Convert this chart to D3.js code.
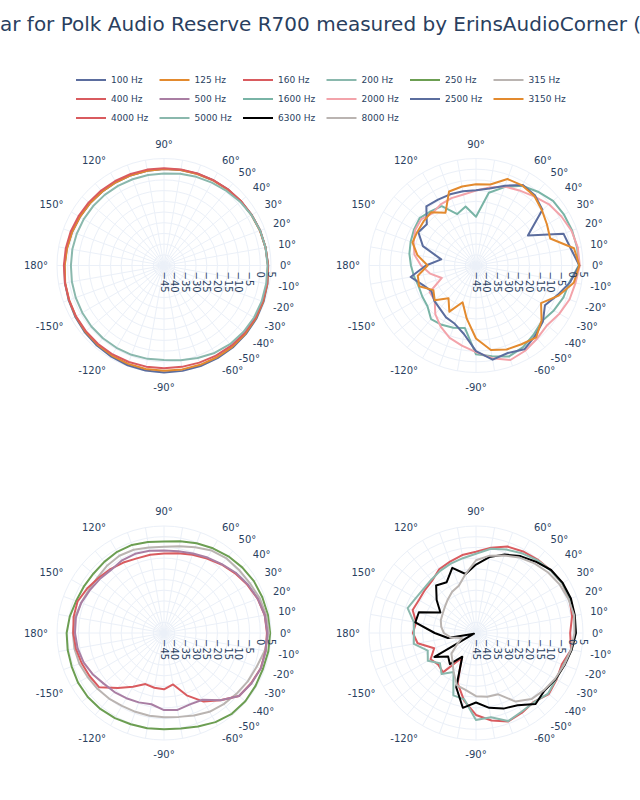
<!DOCTYPE html>
<html>
<head>
<meta charset="utf-8">
<script src="https://cdn.jsdelivr.net/npm/d3@7"></script>
<style>
  body { margin: 0; background: #fff; }
  text { font-family: "DejaVu Sans", Verdana, sans-serif; fill: #2a3f5f; }
</style>
</head>
<body>
<div id="chart"></div>
<script>
// angles in degrees, -170 .. 180 every 10
const angles = d3.range(-170, 181, 10);

// SPL (dB) per angle, top-left
const hz100 = [2.0, 2.4, 2.9, 3.4, 3.8, 4.2, 4.6, 4.8, 5.0, 5.0, 5.0, 5.0, 5.0, 4.9, 4.8, 4.5, 4.1, 3.7, 3.2, 2.8, 2.3, 1.8, 1.4, 1.0, 0.6, 0.3, 0.1, 0.0, -0.1, -0.1, 0.0, 0.2, 0.4, 0.7, 1.1, 1.5];
const hz125 = [1.9, 2.2, 2.6, 3.0, 3.3, 3.6, 3.9, 4.1, 4.2, 4.3, 4.4, 4.5, 4.6, 4.6, 4.5, 4.3, 4.0, 3.6, 3.2, 2.7, 2.2, 1.8, 1.3, 0.9, 0.5, 0.3, 0.1, 0.0, -0.1, -0.1, 0.0, 0.2, 0.4, 0.7, 1.0, 1.4];
const hz160 = [2.0, 2.2, 2.5, 2.7, 2.9, 3.0, 3.0, 3.0, 3.0, 3.1, 3.3, 3.6, 3.9, 4.1, 4.2, 4.1, 3.9, 3.6, 3.2, 2.8, 2.3, 1.9, 1.5, 1.1, 0.8, 0.6, 0.5, 0.5, 0.5, 0.6, 0.7, 0.9, 1.1, 1.4, 1.6, 1.8];
const hz200 = [-1.3, -1.1, -0.9, -0.7, -0.6, -0.6, -0.6, -0.7, -0.8, 0.0, 1.0, 2.2, 3.0, 3.4, 3.6, 3.6, 3.5, 3.4, 3.2, 2.8, 2.2, 1.4, 0.5, -0.3, -0.9, -1.5, -2.0, -2.1, -2.1, -2.0, -1.9, -1.8, -1.7, -1.6, -1.5, -1.5];
// bottom-left
const hz250 = [0.7, 0.9, 1.4, 1.5, 1.3, 0.9, 0.4, 0.2, 0.0, 0.3, 1.5, 3.1, 4.3, 4.6, 4.4, 4.2, 4.5, 4.6, 4.3, 3.9, 3.5, 2.7, 1.8, 0.7, -0.4, -1.5, -2.3, -1.8, -1.2, -1.2, -1.6, -1.9, -1.7, -1.3, -0.3, 0.5];
const hz315 = [-2.5, -2.9, -3.8, -4.4, -5.0, -5.7, -5.8, -5.7, -5.6, -5.2, -4.0, -2.5, -1.6, -0.8, 0.2, 1.1, 2.8, 4.0, 3.5, 2.6, 1.4, 0.8, 0.5, -0.5, -2.4, -3.8, -4.7, -4.4, -3.6, -3.3, -3.8, -4.5, -4.5, -3.8, -2.8, -2.4];
const hz400 = [-3.2, -4.0, -4.8, -5.5, -11.5, -16.0, -19.6, -19.0, -18.7, -20.6, -14.0, -8.0, -4.0, 0.8, 2.0, 3.1, 3.2, 3.1, 2.8, 1.6, 0.0, -1.6, -3.2, -4.8, -6.1, -7.2, -7.8, -7.9, -7.9, -7.0, -6.0, -5.0, -3.5, -2.0, -2.1, -2.6];
const hz500 = [-4.0, -5.0, -6.5, -8.2, -9.0, -9.8, -10.5, -11.2, -9.0, -8.5, -9.5, -9.0, -4.0, 0.8, 2.2, 3.2, 3.3, 3.3, 2.8, 1.7, 0.3, -1.2, -3.0, -4.3, -5.5, -6.2, -6.5, -6.0, -5.6, -5.8, -6.5, -5.8, -5.0, -3.8, -3.2, -3.4];
// top-right
const hz1600 = [-15.6, -16.5, -16.0, -15.4, -12.3, -13.0, -14.0, -15.3, -3.5, -1.9, 0.2, -1.0, -3.0, -4.7, -3.0, -1.5, -0.6, 3.0, 3.0, 2.8, 2.5, 2.0, 0.0, -2.0, -6.0, -10.5, -22.2, -17.0, -19.4, -13.0, -12.0, -10.6, -11.5, -12.5, -13.4, -14.6];
const hz2000 = [-23.2, -28.0, -20.0, -19.8, -15.4, -12.0, -9.0, -7.0, -4.5, -1.0, 2.0, 1.0, -0.5, -1.6, 0.0, 1.5, 2.2, 3.5, 3.3, 2.5, 1.0, -0.5, -2.8, -4.5, -5.7, -8.0, -10.0, -11.3, -11.5, -12.0, -13.2, -11.5, -12.1, -14.0, -15.8, -19.3];
const hz2500 = [-14.0, -18.5, -21.0, -19.5, -18.7, -17.0, -16.0, -12.5, -5.0, -0.3, -1.5, 0.2, -2.0, -4.2, -7.8, -4.5, -0.3, 3.3, 0.0, -1.5, -17.0, -4.5, -2.2, -1.5, -5.3, -8.5, -9.8, -9.8, -9.6, -9.5, -8.9, -15.0, -13.9, -18.6, -28.5, -21.6];
const hz3150 = [-17.4, -16.7, -22.0, -19.8, -25.0, -20.1, -26.7, -19.9, -10.9, -4.9, -3.2, -2.5, -1.2, -5.0, -9.9, -3.9, 1.4, 3.3, 1.5, -8.1, -6.7, -4.8, -2.6, -1.8, -2.0, -6.6, -7.0, -7.5, -8.2, -16.5, -12.5, -13.0, -13.4, -13.4, -17.2, -22.4];
// bottom-right
const hz4000 = [-17.3, -24.2, -20.5, -22.0, -21.0, -31.5, -20.0, -12.9, -6.7, -3.5, -1.0, -2.0, -3.0, -0.6, -1.5, -2.3, 0.1, -1.0, 0.6, 1.5, 1.5, 0.6, -0.2, -1.0, -2.0, -4.5, -7.0, -8.0, -9.5, -10.6, -13.1, -13.8, -14.2, -13.5, -16.6, -15.5];
const hz5000 = [-15.5, -21.0, -19.0, -23.0, -20.0, -24.0, -14.0, -13.5, -4.3, -5.0, -1.2, -2.5, -2.8, -1.0, -1.8, -1.5, 0.3, 1.5, 1.5, 1.8, 1.5, 0.5, -0.5, -2.0, -3.5, -5.0, -8.0, -9.5, -10.5, -11.5, -12.5, -13.0, -12.5, -11.0, -15.5, -16.0];
const hz6300 = [-31.7, -44.0, -22.6, -28.0, -26.0, -32.2, -18.0, -9.5, -12.5, -9.5, -7.4, -6.0, -1.7, -3.2, -2.0, -1.0, 0.4, 1.7, 1.9, 2.2, 1.8, 0.8, -1.5, -3.5, -6.0, -9.0, -13.0, -17.0, -12.6, -17.6, -16.0, -21.0, -25.8, -16.6, -16.2, -25.7];
const hz8000 = [-33.0, -38.0, -35.0, -30.0, -27.9, -24.0, -19.0, -17.9, -15.5, -14.8, -14.5, -8.0, -4.7, -3.5, -2.3, -1.2, 0.1, 1.0, 1.6, 1.0, 0.2, -1.0, -2.5, -4.3, -6.5, -8.3, -11.0, -17.0, -21.5, -22.7, -24.5, -26.0, -27.0, -27.5, -28.5, -30.0];

const series = [
  { name: "100 Hz", values: hz100, color: "#5b6d9e", plot: 0 },
  { name: "125 Hz", values: hz125, color: "#e38a2e", plot: 0 },
  { name: "160 Hz", values: hz160, color: "#d95b5f", plot: 0 },
  { name: "200 Hz", values: hz200, color: "#8ab8ad", plot: 0 },
  { name: "250 Hz", values: hz250, color: "#6c9e52", plot: 2 },
  { name: "315 Hz", values: hz315, color: "#bab4b1", plot: 2 },
  { name: "400 Hz", values: hz400, color: "#d95b5f", plot: 2 },
  { name: "500 Hz", values: hz500, color: "#a97ea3", plot: 2 },
  { name: "1600 Hz", values: hz1600, color: "#79b4a6", plot: 1 },
  { name: "2000 Hz", values: hz2000, color: "#f3a3aa", plot: 1 },
  { name: "2500 Hz", values: hz2500, color: "#5b6d9e", plot: 1 },
  { name: "3150 Hz", values: hz3150, color: "#e38a2e", plot: 1 },
  { name: "4000 Hz", values: hz4000, color: "#d95b5f", plot: 3 },
  { name: "5000 Hz", values: hz5000, color: "#8ab8ad", plot: 3 },
  { name: "6300 Hz", values: hz6300, color: "#000000", plot: 3 },
  { name: "8000 Hz", values: hz8000, color: "#bab4b1", plot: 3 }
];

const radialTicks = d3.range(-45, 6, 5);
const angleTicks = [0, 10, 20, 30, 40, 50, 60, 90, 120, 150, 180, -150, -120, -90, -60, -50, -40, -30, -20, -10];

const width = 640;
const height = 800;
const R = 107;
const centers = [[164, 265.5], [476, 265.5], [164, 633], [476, 633]];
const gridColor = "#ebf0f8";

const svg = d3.select("#chart")
  .append("svg")
  .attr("width", width)
  .attr("height", height);

// title (wider than the page, centred like the original)
const title = svg.append("text")
  .attr("y", 31)
  .style("font-size", "20px")
  .text("SPL Horizontal Radar for Polk Audio Reserve R700 measured by ErinsAudioCorner (eac)");
const prefixLen = title.node().getSubStringLength(0, 18);
title.attr("x", -prefixLen);

const rScale = d3.scaleLinear().domain([-45, 5]).range([0, R]);
const rad = a => (90 - a) * Math.PI / 180;

const line = d3.lineRadial()
  .angle(d => rad(d.angle))
  .radius(d => rScale(Math.max(-45, Math.min(5, d.value))))
  .curve(d3.curveLinearClosed);

centers.forEach((c, i) => {
  const g = svg.append("g").attr("transform", `translate(${c[0]},${c[1]})`);

  // grid circles
  g.selectAll("circle.grid")
    .data(radialTicks.slice(1))
    .enter()
    .append("circle")
    .attr("r", d => rScale(d))
    .attr("fill", "none")
    .attr("stroke", gridColor)
    .attr("stroke-width", 1);

  // spokes every 10 degrees
  g.selectAll("line.spoke")
    .data(d3.range(0, 360, 10))
    .enter()
    .append("line")
    .attr("x1", 0).attr("y1", 0)
    .attr("x2", d => R * Math.cos(d * Math.PI / 180))
    .attr("y2", d => -R * Math.sin(d * Math.PI / 180))
    .attr("stroke", gridColor)
    .attr("stroke-width", 1);

  // angular labels
  g.selectAll("text.angle")
    .data(angleTicks)
    .enter()
    .append("text")
    .attr("x", d => (R + 9) * Math.cos(d * Math.PI / 180))
    .attr("y", d => -(R + 9) * Math.sin(d * Math.PI / 180) - Math.sin(d * Math.PI / 180) * 5.5)
    .attr("dy", "0.35em")
    .attr("text-anchor", d => {
      const cs = Math.cos(d * Math.PI / 180);
      return cs > 0.1 ? "start" : (cs < -0.1 ? "end" : "middle");
    })
    .style("font-size", "10px")
    .text(d => d + "°");

  // traces
  series.filter(s => s.plot === i).forEach(s => {
    const pts = angles.map((a, k) => ({ angle: a, value: s.values[k] }));
    g.append("path")
      .attr("d", line(pts))
      .attr("fill", "none")
      .attr("stroke", s.color)
      .attr("stroke-width", 2)
      .attr("stroke-linejoin", "round");
  });

  // radial tick labels, rotated along the 0 degree line
  g.selectAll("text.radial")
    .data(radialTicks)
    .enter()
    .append("text")
    .attr("transform", d => `translate(${rScale(d)},6) rotate(90)`)
    .attr("dy", "0.35em")
    .attr("text-anchor", "start")
    .style("font-size", "10px")
    .text(d => d < 0 ? "\u2212" + Math.abs(d) : d);
});

// legend, 6 per row
const legend = svg.append("g");
const items = legend.selectAll("g")
  .data(series)
  .enter()
  .append("g")
  .attr("transform", (d, i) => `translate(${71 + (i % 6) * 83.5},${80 + Math.floor(i / 6) * 19})`);

items.append("line")
  .attr("x1", 5).attr("x2", 35)
  .attr("stroke", d => d.color)
  .attr("stroke-width", 2);

items.append("text")
  .attr("x", 40)
  .attr("dy", "0.35em")
  .style("font-size", "9px")
  .text(d => d.name);
</script>
</body>
</html>
